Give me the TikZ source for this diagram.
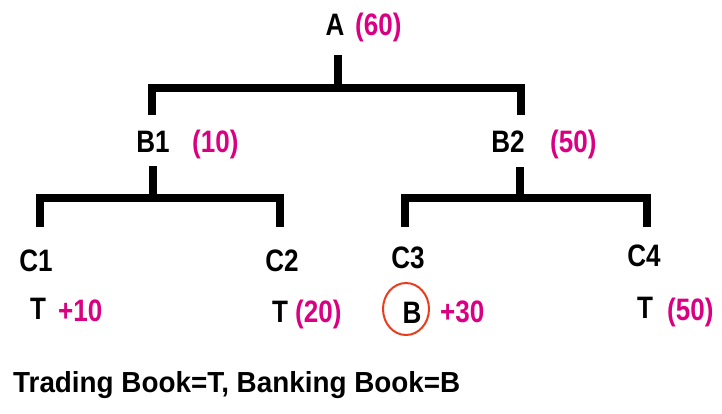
\documentclass[tikz,border=0pt]{standalone}
\usepackage{fontspec}
\setmainfont[FakeStretch=0.84]{Liberation Sans}
\newfontfamily\keyfont[FakeStretch=0.96]{Liberation Sans}
\usetikzlibrary{shapes.geometric}
\definecolor{valpink}{RGB}{218,0,130}
\definecolor{ringred}{RGB}{235,60,30}

\begin{document}
\begin{tikzpicture}[x=1pt,y=-1pt,
    lbl/.style={anchor=base,inner sep=0pt,font=\fontsize{31}{31}\selectfont\bfseries},
    val/.style={anchor=base west,inner sep=0pt,text=valpink,font=\fontsize{31}{31}\selectfont\bfseries},
    branch/.style={line width=8pt,line join=miter,line cap=butt},
    ring/.style={draw=ringred,line width=2pt,ellipse,minimum width=46pt,minimum height=52pt,inner sep=0pt}]
    \useasboundingbox (0,0) rectangle (722,413);

    \node[lbl] (A) at (335,35) {A};
    \node[val] (vA) at (355,35) {(60)};
    \node[lbl] (B1) at (153,152) {B1};
    \node[val] (vB1) at (192,152) {(10)};
    \node[lbl] (B2) at (508,152) {B2};
    \node[val] (vB2) at (550,152) {(50)};
    \node[lbl] (C1) at (36,271) {C1};
    \node[lbl] (C2) at (282,271) {C2};
    \node[lbl] (C3) at (408,268) {C3};
    \node[lbl] (C4) at (644,266) {C4};
    \node[lbl] (T1) at (38,319) {T};
    \node[val] (v1) at (58,321) {+10};
    \node[lbl] (T2) at (280,322) {T};
    \node[val] (v2) at (295,322) {(20)};
    \node[lbl] (B3) at (412,323) {B};
    \node[val] (v3) at (440,322) {+30};
    \node[lbl] (T4) at (645,318) {T};
    \node[val] (v4) at (667,320) {(50)};
    \node[ring] (r3) at (406,309) {};

    \coordinate (a0) at (338,55);
    \coordinate (a1) at (338,88);
    \coordinate (b1t) at (152,115);
    \coordinate (b2t) at (521,115);
    \coordinate (b10) at (153,166);
    \coordinate (b11) at (153,198);
    \coordinate (c1t) at (40,227);
    \coordinate (c2t) at (280,227);
    \coordinate (b20) at (520,167);
    \coordinate (b21) at (520,198);
    \coordinate (c3t) at (405,227);
    \coordinate (c4t) at (647,227);

    \draw[branch] (a0) -- (a1);
    \draw[branch] (b1t) |- (a1) -| (b2t);
    \draw[branch] (b10) -- (b11);
    \draw[branch] (c1t) |- (b11) -| (c2t);
    \draw[branch] (b20) -- (b21);
    \draw[branch] (c3t) |- (b21) -| (c4t);

    \node[anchor=base west,inner sep=0pt,font=\keyfont\fontsize{29}{29}\selectfont\bfseries] (key) at (13,392) {Trading Book=T, Banking Book=B};
\end{tikzpicture}
\end{document}
